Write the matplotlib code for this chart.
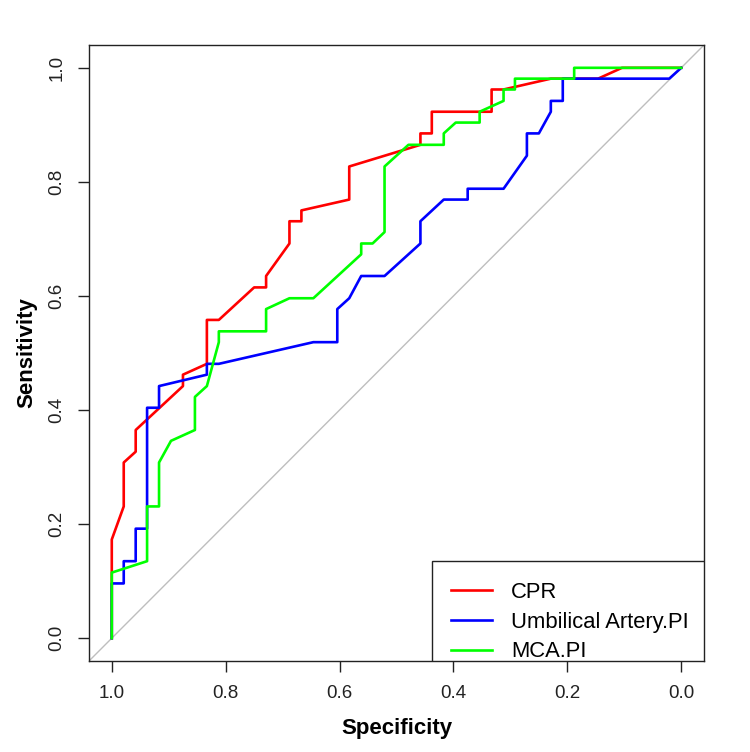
import numpy as np
import matplotlib
matplotlib.use('Agg')
import matplotlib.pyplot as plt
from matplotlib.patches import Rectangle

plt.rcParams['font.family'] = ['Liberation Sans', 'DejaVu Sans']

# ROC points (specificity, sensitivity)
cpr_spec = [1.0, 1.0, 1.0, 0.979, 0.979, 0.958, 0.958, 0.875, 0.875, 0.833, 0.833,
            0.812, 0.750, 0.729, 0.729, 0.688, 0.688, 0.667, 0.667, 0.583, 0.583,
            0.458, 0.458, 0.438, 0.438, 0.333, 0.333, 0.312, 0.229, 0.146, 0.104, 0.0]
cpr_sens = [0.0, 0.115, 0.173, 0.231, 0.308, 0.327, 0.365, 0.442, 0.462, 0.481, 0.558,
            0.558, 0.615, 0.615, 0.635, 0.692, 0.731, 0.731, 0.750, 0.769, 0.827,
            0.865, 0.885, 0.885, 0.923, 0.923, 0.962, 0.962, 0.981, 0.981, 1.0, 1.0]

ua_spec = [1.0, 1.0, 0.979, 0.979, 0.958, 0.958, 0.938, 0.938, 0.917, 0.917, 0.833,
           0.833, 0.812, 0.646, 0.604, 0.604, 0.583, 0.562, 0.521, 0.458, 0.458,
           0.417, 0.375, 0.375, 0.312, 0.271, 0.271, 0.250, 0.229, 0.229, 0.208,
           0.208, 0.021, 0.0]
ua_sens = [0.0, 0.096, 0.096, 0.135, 0.135, 0.192, 0.192, 0.404, 0.404, 0.442, 0.462,
           0.481, 0.481, 0.519, 0.519, 0.577, 0.596, 0.635, 0.635, 0.692, 0.731,
           0.769, 0.769, 0.788, 0.788, 0.846, 0.885, 0.885, 0.923, 0.942, 0.942,
           0.981, 0.981, 1.0]

mca_spec = [1.0, 1.0, 0.938, 0.938, 0.917, 0.917, 0.896, 0.854, 0.854, 0.833, 0.812,
            0.812, 0.729, 0.729, 0.688, 0.646, 0.562, 0.562, 0.542, 0.521, 0.521,
            0.479, 0.417, 0.417, 0.396, 0.354, 0.354, 0.312, 0.312, 0.292, 0.292,
            0.188, 0.188, 0.0]
mca_sens = [0.0, 0.115, 0.135, 0.231, 0.231, 0.308, 0.346, 0.365, 0.423, 0.442, 0.519,
            0.538, 0.538, 0.577, 0.596, 0.596, 0.673, 0.692, 0.692, 0.712, 0.827,
            0.865, 0.865, 0.885, 0.904, 0.904, 0.923, 0.942, 0.962, 0.962, 0.981,
            0.981, 1.0, 1.0]

labels = ['CPR', 'Umbilical Artery.PI', 'MCA.PI']
colors = ['#FF0000', '#0000FF', '#00FF00']
ticks = [1.0, 0.8, 0.6, 0.4, 0.2, 0.0]

fig = plt.figure(figsize=(7.5, 7.52), dpi=100)
ax = fig.add_axes([89 / 750, (752 - 661) / 752, 615 / 750, 616 / 752])

ax.set_xlim(1.04, -0.04)
ax.set_ylim(-0.04, 1.04)

# chance line
ax.axline((1, 0), (0, 1), color='#BEBEBE', lw=1.0, zorder=1)

lines = []
for sp, se, c in zip([cpr_spec, ua_spec, mca_spec], [cpr_sens, ua_sens, mca_sens], colors):
    l, = ax.plot(sp, se, color=c, lw=1.9, zorder=3)
    lines.append(l)

ax.set_xticks(ticks)
ax.set_yticks(ticks)
ax.set_xticklabels(['%.1f' % t for t in ticks])
ax.set_yticklabels(['%.1f' % t for t in ticks], rotation=90, va='center')
ax.tick_params(direction='out', length=8, width=1.0, labelsize=13.5, pad=9, colors='#222222')
for s in ax.spines.values():
    s.set_linewidth(1.0)
    s.set_color('#222222')

ax.set_xlabel('Specificity', fontsize=16, fontweight='bold', labelpad=12)
ax.set_ylabel('Sensitivity', fontsize=16, fontweight='bold', labelpad=8)

# legend box at bottom right, like R's legend()
ax.add_patch(Rectangle((0.558, 0.0), 0.442, 0.1623, transform=ax.transAxes,
                       facecolor='white', edgecolor='#222222', lw=1.0, zorder=4))
leg = ax.legend(lines, labels, loc='center left', bbox_to_anchor=(0.5886, 0.0630),
                frameon=False, borderpad=0, borderaxespad=0, fontsize=15.8,
                handlelength=1.85, handletextpad=0.9, labelspacing=0.4)
leg.set_zorder(5)

fig.savefig('out.png', dpi=100)
